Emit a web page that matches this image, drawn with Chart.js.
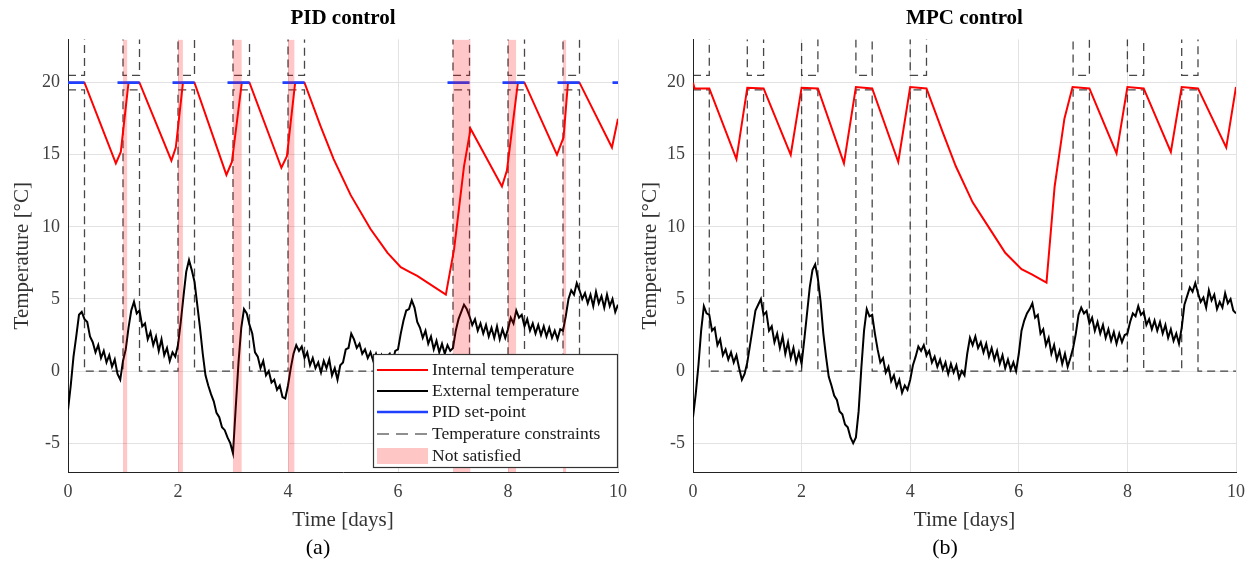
<!DOCTYPE html>
<html><head><meta charset="utf-8">
<script src="https://cdn.jsdelivr.net/npm/chart.js@4.4.1/dist/chart.umd.min.js"></script>
<style>
html,body{margin:0;padding:0;background:#fff;width:1254px;height:564px;overflow:hidden}
#cA{position:absolute;left:0;top:0}
#cB{position:absolute;left:636px;top:0}
</style></head><body>
<canvas id="cA" width="636" height="564"></canvas>
<canvas id="cB" width="618" height="564"></canvas>
<script>
// ---------- data ----------
const xTicks=[0,2,4,6,8,10];
const yTicks=[-5,0,5,10,15,20];
const extStep=0.05; // days between external temperature samples (0 .. 10)
const pidExt=[-2.7,-1.0,1.0,2.4,3.9,4.1,3.6,3.4,2.4,2.0,
 1.3,1.8,0.9,1.4,0.6,1.1,0.3,0.8,-0.2,-0.6,
 0.7,1.5,3.0,4.2,4.8,4.0,4.2,3.1,3.3,2.2,
 2.7,1.8,2.4,1.4,2.2,1.1,1.6,0.7,1.3,1.0,
 1.8,3.4,5.2,6.9,7.7,7.0,6.2,4.6,3.0,1.2,
 -0.3,-1.0,-1.6,-2.1,-2.9,-3.2,-3.9,-4.1,-4.6,-5.0,
 -5.7,-2.5,0.6,3.0,4.3,4.0,3.2,2.6,1.3,1.0,
 0.2,0.7,-0.3,0.0,-0.8,-0.6,-1.3,-1.0,-1.8,-1.9,
 -1.0,0.2,1.2,1.8,1.4,1.7,0.9,1.3,0.4,0.9,
 0.2,0.6,-0.1,0.7,0.2,0.8,-0.3,0.2,-0.6,0.4,
 0.6,1.5,1.6,2.6,2.2,1.6,1.9,1.2,1.5,0.9,
 1.3,0.7,1.2,0.6,1.1,0.5,1.0,1.2,0.6,1.4,
 1.5,2.6,3.5,4.2,4.3,4.9,4.4,3.4,3.0,2.3,
 2.8,1.9,2.4,1.5,2.1,1.3,1.9,1.2,1.8,1.4,
 1.6,2.8,3.6,4.1,4.6,4.3,3.8,3.2,3.6,2.8,
 3.3,2.6,3.2,2.4,3.0,2.3,3.1,2.2,2.9,2.3,
 2.9,3.7,3.3,4.2,3.7,3.9,3.1,3.6,2.8,3.3,
 2.6,3.2,2.5,3.1,2.4,3.0,2.3,2.8,2.2,2.9,
 2.8,3.8,5.0,5.6,5.3,6.1,5.6,5.0,5.4,4.7,
 5.3,4.5,5.5,4.7,5.2,4.4,5.3,4.5,5.0,4.1,
 4.6];
const mpcExt=[-3.2,-1.6,0.4,2.8,4.5,4.0,3.9,2.8,3.0,1.8,
 2.2,1.1,1.5,0.8,1.3,0.6,1.1,0.2,-0.6,-0.2,
 0.6,1.8,3.0,4.2,4.6,5.0,3.9,4.1,2.8,3.1,
 2.0,2.6,1.6,2.4,1.2,2.0,0.9,1.6,0.6,1.3,
 0.5,2.2,4.0,5.8,7.0,7.4,6.4,4.8,2.6,1.0,
 -0.4,-1.0,-1.7,-2.0,-2.8,-3.0,-3.7,-3.9,-4.6,-5.0,
 -4.6,-2.8,0.2,2.8,4.3,3.8,3.9,2.6,1.5,0.6,
 0.9,-0.1,0.3,-0.7,-0.3,-1.1,-0.6,-1.5,-1.0,-1.3,
 -0.6,0.4,1.0,1.7,1.4,1.8,1.1,1.4,0.6,1.0,
 0.3,0.8,0.1,0.6,-0.2,0.5,-0.1,0.4,-0.5,0.0,
 -0.3,1.2,2.3,1.8,2.4,1.6,2.0,1.3,1.9,1.0,
 1.6,0.8,1.4,0.5,1.1,0.2,0.8,0.1,0.6,0.0,
 1.2,2.8,3.5,4.0,4.3,4.7,3.7,3.9,2.6,2.9,
 1.8,2.3,1.2,1.8,0.8,1.4,0.5,1.2,0.3,0.9,
 1.6,2.6,3.9,4.4,4.0,4.2,3.3,3.7,2.8,3.4,
 2.6,3.2,2.3,2.9,2.1,2.7,1.9,2.6,2.0,2.5,
 2.6,3.4,4.0,3.8,4.5,3.9,4.1,3.2,3.6,2.9,
 3.5,2.8,3.4,2.6,3.2,2.3,2.9,2.1,2.6,1.9,
 3.0,4.6,5.2,5.8,5.5,6.1,5.4,4.8,5.1,4.4,
 5.6,4.9,5.3,4.3,4.8,4.4,5.4,4.7,5.0,4.2,
 4.0];
const pidInTime=[0,0.3,0.87,0.96,1.1,1.3,1.88,1.96,2.09,2.3,2.88,2.98,3.16,3.3,3.88,3.98,4.13,4.3,4.59,4.83,5.14,5.5,5.81,6.05,6.2,6.35,6.87,7.02,7.2,7.32,7.89,7.98,8.18,8.3,8.89,9.01,9.09,9.3,9.89,10];
const pidInTemp=[20,20,14.4,15.2,20,20,14.6,15.5,20,20,13.6,14.5,20,20,14.1,14.9,20,20,17.0,14.7,12.2,9.85,8.2,7.2,6.9,6.6,5.3,8.45,14.2,16.8,12.8,13.9,20,20,15.0,16.2,20,20,15.5,17.5];
const mpcInTime=[0,0.03,0.3,0.8,1.0,1.3,1.8,2.0,2.3,2.78,3.0,3.3,3.78,4.0,4.3,4.6,4.84,5.15,5.51,5.75,6.05,6.24,6.51,6.66,6.84,6.99,7.3,7.8,8.0,8.3,8.8,9.0,9.3,9.82,10];
const mpcInTemp=[20,19.6,19.6,14.7,19.65,19.6,15.0,19.65,19.6,14.4,19.7,19.6,14.5,19.7,19.6,16.55,14.2,11.7,9.6,8.2,7.07,6.7,6.13,12.8,17.5,19.7,19.6,15.1,19.7,19.6,15.2,19.7,19.6,15.5,19.7];
const conTime=[0,0.3,0.3,1,1,1.3,1.3,2,2,2.3,2.3,3,3,3.3,3.3,4,4,4.3,4.3,7,7,7.3,7.3,8,8,8.3,8.3,9,9,9.3,9.3,10];
const conLower=[19.5,19.5,0,0,19.5,19.5,0,0,19.5,19.5,0,0,19.5,19.5,0,0,19.5,19.5,0,0,19.5,19.5,0,0,19.5,19.5,0,0,19.5,19.5,0,0];
const conUpper=[20.5,20.5,30,30,20.5,20.5,30,30,20.5,20.5,30,30,20.5,20.5,30,30,20.5,20.5,30,30,20.5,20.5,30,30,20.5,20.5,30,30,20.5,20.5,30,30];
const spStart=[0,0.9,1.9,2.9,3.9,6.9,7.9,8.9,9.9];
const spEnd=[0.3,1.3,2.3,3.3,4.3,7.3,8.3,9.3,10];
const spValue=20;
const nsStart=[1.0,2.0,3.0,4.0,7.0,8.0,9.0];
const nsEnd=[1.08,2.09,3.16,4.12,7.32,8.15,9.06];
const legendLabels=['Internal temperature','External temperature','PID set-point','Temperature constraints','Not satisfied'];
const yMin=-7, yMax=23;

// ---------- helpers ----------
Chart.defaults.font.family="'Liberation Serif','Times New Roman',serif";
Chart.defaults.color='#404040';
const C={red:'#ff0000',black:'#000000',blue:'#1f40ff',dash:'rgba(30,30,30,0.82)',pinkFill:'rgba(255,0,0,0.22)',pinkLegend:'#ffc6c6',grid:'#e2e2e2'};
function pairs(t,v){return t.map((x,i)=>({x:x,y:v[i]}));}
function sampled(v){return v.map((y,i)=>({x:Math.round(i*extStep*100)/100,y:y}));}
function spans(s,e,val){const out=[];s.forEach((a,i)=>{out.push({x:a,y:val},{x:e[i],y:val},{x:e[i],y:null});});return out;}
function lineDs(label,data,color,width,order,extra){
  return Object.assign({label:label,data:data,borderColor:color,backgroundColor:color,borderWidth:width,
    pointRadius:0,pointHoverRadius:0,tension:0,fill:false,spanGaps:false,order:order},extra||{});
}
function scales(yW,yTitlePad,rightW){
  return {
    x:{type:'linear',min:0,max:10,
      afterBuildTicks:s=>{s.ticks=xTicks.map(v=>({value:v}));},
      grid:{color:C.grid,drawTicks:false},border:{color:'#222',width:1},
      ticks:{padding:9,font:{size:18},color:'#404040',maxRotation:0},
      title:{display:true,text:'Time [days]',font:{size:21},color:'#333',padding:{top:0,bottom:2.2}},
      afterFit:s=>{s.height=62.8;}},
    y:{type:'linear',min:yMin,max:yMax,
      afterBuildTicks:s=>{s.ticks=yTicks.map(v=>({value:v}));},
      grid:{color:C.grid,drawTicks:false},border:{color:'#222',width:1},
      ticks:{padding:8,font:{size:18},color:'#404040'},
      title:{display:true,text:'Temperature [°C]',font:{size:21},color:'#333',padding:{top:yTitlePad,bottom:0}},
      afterFit:s=>{s.width=yW;}},
    pad:{type:'linear',position:'right',display:true,grid:{display:false,drawTicks:false},border:{display:false},
      ticks:{display:false},afterFit:s=>{s.width=rightW;}}
  };
}
function plugins(title,sub){
  return {
    legend:{display:false},tooltip:{enabled:false},
    title:{display:true,text:title,font:{size:21,weight:'bold'},color:'#000',padding:{top:6,bottom:8.2},fullSize:false},
    subtitle:{display:true,text:sub,position:'bottom',font:{size:22},color:'#000',padding:{top:0,bottom:2.8}}
  };
}
const boxLegend={id:'boxLegend',afterDatasetsDraw(chart){
  const a=chart.chartArea, ctx=chart.ctx;
  const w=245,h=114,x0=a.right-w,y0=a.bottom-h-4;
  ctx.save();
  ctx.fillStyle='#fff';ctx.fillRect(x0,y0,w,h);
  ctx.strokeStyle='#333';ctx.lineWidth=1.2;ctx.strokeRect(x0+0.5,y0+0.5,w-1,h-1);
  const rows=[16,37,58,80,102];
  const st=[{c:C.red,w:2},{c:C.black,w:2},{c:C.blue,w:2.6},{c:'rgba(90,90,90,0.9)',w:1.6,d:[12,7]},{pink:true}];
  ctx.font="17.5px 'Liberation Serif'";ctx.textBaseline='middle';ctx.textAlign='left';
  legendLabels.forEach((t,i)=>{
    const y=y0+rows[i], s=st[i];
    if(s.pink){ctx.fillStyle=C.pinkLegend;ctx.fillRect(x0+4,y-8,51,16);}
    else{ctx.beginPath();ctx.setLineDash(s.d||[]);ctx.strokeStyle=s.c;ctx.lineWidth=s.w;ctx.moveTo(x0+4,y);ctx.lineTo(x0+55,y);ctx.stroke();ctx.setLineDash([]);}
    ctx.fillStyle='#1a1a1a';ctx.fillText(t,x0+59,y);
  });
  ctx.restore();
}};

// ---------- chart (a) PID ----------
new Chart(document.getElementById('cA'),{
  type:'line',
  data:{datasets:[
    lineDs('Not satisfied',spans(nsStart,nsEnd,yMax),'rgba(0,0,0,0)',0,0,{fill:'start',backgroundColor:C.pinkFill}),
    lineDs('PID set-point',spans(spStart,spEnd,spValue),C.blue,2.6,1),
    lineDs('Internal temperature',pairs(pidInTime,pidInTemp),C.red,2,2),
    lineDs('External temperature',sampled(pidExt),C.black,2,3),
    lineDs('Temperature constraints',pairs(conTime,conLower),C.dash,1.3,4,{borderDash:[8,5]}),
    lineDs('Temperature constraints (upper)',pairs(conTime,conUpper),C.dash,1.3,4,{borderDash:[8,5]})
  ]},
  options:{responsive:false,animation:false,devicePixelRatio:1,
    layout:{padding:0},
    scales:scales(68,9.4,18),
    plugins:plugins('PID control','(a)')},
  plugins:[boxLegend]
});

// ---------- chart (b) MPC ----------
new Chart(document.getElementById('cB'),{
  type:'line',
  data:{datasets:[
    lineDs('Internal temperature',pairs(mpcInTime,mpcInTemp),C.red,2,2),
    lineDs('External temperature',sampled(mpcExt),C.black,2,3),
    lineDs('Temperature constraints',pairs(conTime,conLower),C.dash,1.3,4,{borderDash:[8,5]}),
    lineDs('Temperature constraints (upper)',pairs(conTime,conUpper),C.dash,1.3,4,{borderDash:[8,5]})
  ]},
  options:{responsive:false,animation:false,devicePixelRatio:1,
    layout:{padding:0},
    scales:scales(57,1.4,12),
    plugins:plugins('MPC control','(b)')}
});
</script>
</body></html>
